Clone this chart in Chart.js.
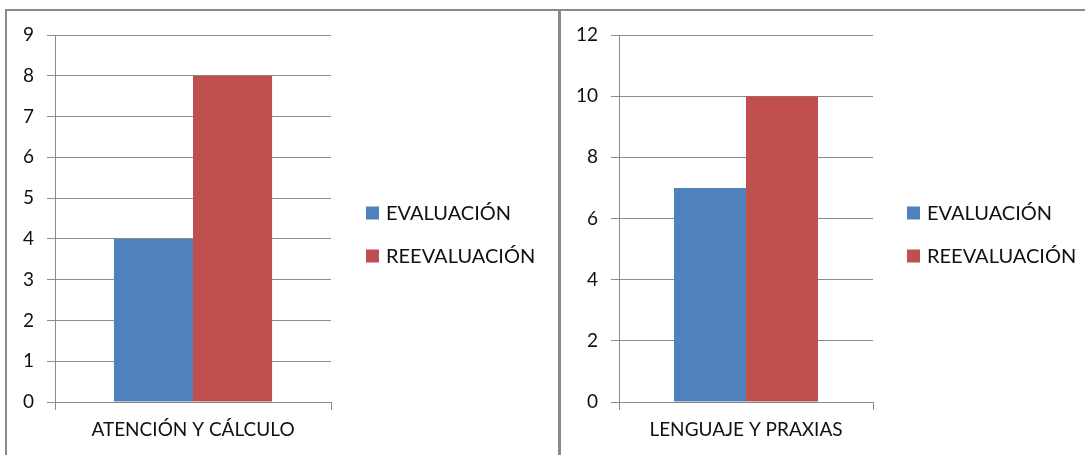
<!DOCTYPE html>
<html>
<head>
<meta charset="utf-8">
<script src="https://cdn.jsdelivr.net/npm/chart.js@4.4.1/dist/chart.umd.min.js"></script>
<style>
  html, body { margin: 0; padding: 0; background: #ffffff; }
  body { width: 1085px; height: 455px; position: relative; overflow: hidden; }
  .panel { position: absolute; top: 0; height: 455px; }
  #panelA { left: 0; width: 558px; }
  #panelB { left: 561px; width: 524px; }
  .rule { position: absolute; background: #8a8a8a; }
</style>
</head>
<body>
<div class="panel" id="panelA"><canvas id="chartA"></canvas></div>
<div class="panel" id="panelB"><canvas id="chartB"></canvas></div>
<div class="rule" style="left:5px;top:9px;width:1080px;height:2px;"></div>
<div class="rule" style="left:5px;top:9px;width:2px;height:446px;"></div>
<div class="rule" style="left:558px;top:9px;width:3px;height:446px;"></div>
<script>
// Series names shared by both charts
const seriesNames = ['EVALUACIÓN', 'REEVALUACIÓN'];
const seriesColors = ['#4F81BD', '#C0504D'];

// Chart A: attention and calculation
const categoriesA = ['ATENCIÓN Y CÁLCULO'];
const evaluacionA = [4];
const reevaluacionA = [8];
const yMaxA = 9;
const yStepA = 1;

// Chart B: language and praxis
const categoriesB = ['LENGUAJE Y PRAXIAS'];
const evaluacionB = [7];
const reevaluacionB = [10];
const yMaxB = 12;
const yStepB = 2;

const FONT = 'Lato, "Open Sans", sans-serif';
const GRID = '#8c8c8c';
const TEXT = '#111111';

// Legend drawn as square swatch + label, stacked vertically at a fixed spot
const sideLegend = {
  id: 'sideLegend',
  afterDraw(chart, args, opts) {
    const ctx = chart.ctx;
    ctx.save();
    ctx.font = opts.fontSize + 'px ' + FONT;
    ctx.textBaseline = 'middle';
    ctx.textAlign = 'left';
    chart.data.datasets.forEach((ds, i) => {
      const cy = opts.y + i * opts.gap;
      ctx.fillStyle = ds.backgroundColor;
      ctx.fillRect(opts.x, cy - opts.box / 2, opts.box, opts.box);
      ctx.fillStyle = TEXT;
      ctx.fillText(ds.label, opts.x + opts.box + 7, cy + 1);
    });
    ctx.restore();
  }
};

function makeChart(id, categories, evals, reevals, yMax, yStep, axisWidth, padRight, catPct, legendX) {
  return new Chart(document.getElementById(id), {
    type: 'bar',
    data: {
      labels: categories,
      datasets: [
        { label: seriesNames[0], data: evals, backgroundColor: seriesColors[0] },
        { label: seriesNames[1], data: reevals, backgroundColor: seriesColors[1] }
      ]
    },
    options: {
      responsive: true,
      maintainAspectRatio: false,
      animation: false,
      layout: { padding: { left: 0, top: 35, right: padRight, bottom: 0 } },
      plugins: {
        legend: { display: false },
        tooltip: { enabled: false },
        sideLegend: { x: legendX, y: 213, gap: 43, box: 13, fontSize: 20 }
      },
      datasets: { bar: { barPercentage: 1, categoryPercentage: catPct } },
      scales: {
        x: {
          offset: true,
          grid: { offset: true, drawOnChartArea: false, drawTicks: true, tickLength: 8, color: GRID },
          border: { color: GRID },
          ticks: { color: TEXT, font: { family: FONT, size: 19 }, padding: 8, maxRotation: 0 },
          afterFit(scale) { scale.height = 53; }
        },
        y: {
          min: 0,
          max: yMax,
          grid: { color: GRID, tickLength: 8, drawTicks: true },
          border: { color: GRID },
          ticks: { stepSize: yStep, color: TEXT, font: { family: FONT, size: 19 }, padding: 13 },
          afterFit(scale) { scale.width = axisWidth; }
        }
      }
    },
    plugins: [sideLegend]
  });
}

makeChart('chartA', categoriesA, evaluacionA, reevaluacionA, yMaxA, yStepA, 55, 227, 0.573, 366);
makeChart('chartB', categoriesB, evaluacionB, reevaluacionB, yMaxB, yStepB, 58, 212, 0.567, 346);
</script>
</body>
</html>
